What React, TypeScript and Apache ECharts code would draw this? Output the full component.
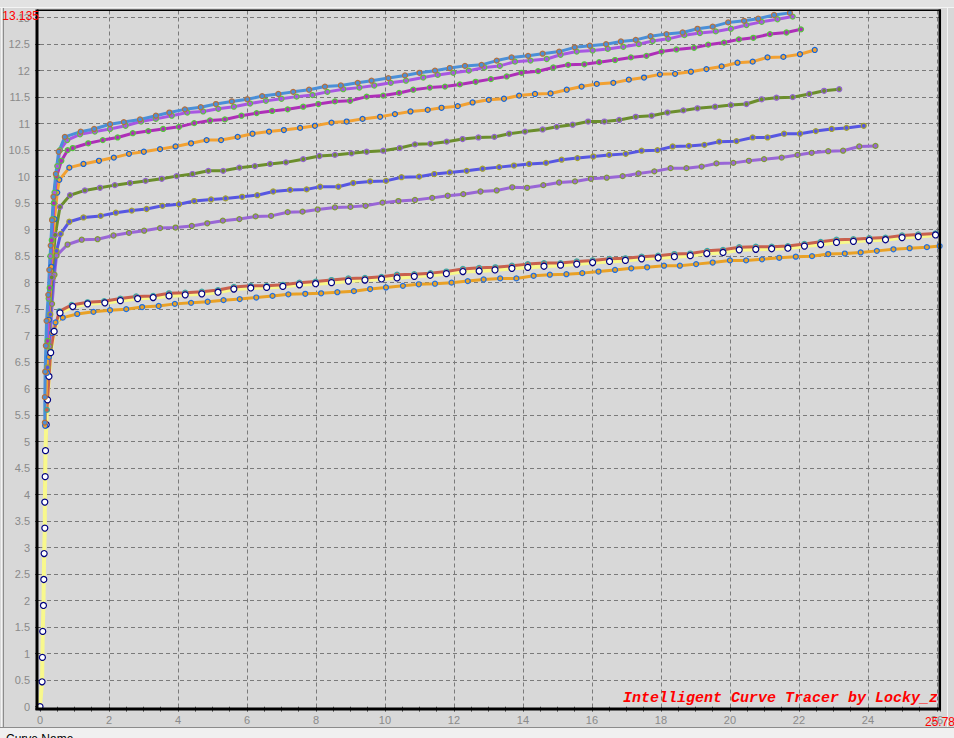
import React, { useEffect, useRef } from "react";
import * as echarts from "echarts";

const X_MAX = 26.09;
const Y_MAX = 13.135;
const X_MAX_LABEL = "25.78";
const Y_MAX_LABEL = "13.135";
const WATERMARK = "Intelligent Curve Tracer by Locky_z";

const curveBlue: number[][] = [[0.14,5.36],[0.14,5.84],[0.15,6.32],[0.17,6.81],[0.19,7.28],[0.24,7.77],[0.27,8.24],[0.31,8.7],[0.35,9.18],[0.39,9.62],[0.46,10.05],[0.54,10.47],[0.72,10.75],[1.18,10.85],[1.57,10.9],[2.03,10.99],[2.43,11.03],[2.9,11.08],[3.36,11.15],[3.75,11.21],[4.2,11.27],[4.66,11.31],[5.1,11.37],[5.56,11.42],[6.01,11.46],[6.44,11.52],[6.91,11.56],[7.34,11.6],[7.8,11.64],[8.26,11.7],[8.72,11.72],[9.21,11.77],[9.61,11.81],[10.1,11.86],[10.58,11.91],[11.0,11.96],[11.45,12.0],[11.88,12.05],[12.32,12.09],[12.8,12.11],[13.24,12.19],[13.67,12.25],[14.15,12.28],[14.57,12.32],[15.05,12.36],[15.5,12.44],[15.94,12.47],[16.41,12.5],[16.84,12.55],[17.27,12.58],[17.7,12.65],[18.16,12.69],[18.63,12.72],[19.06,12.79],[19.5,12.83],[19.95,12.91],[20.41,12.94],[20.82,12.98],[21.28,13.05],[21.74,13.09]];

const curvePurple: number[][] = [[0.2,6.8],[0.25,7.7],[0.3,8.5],[0.36,9.2],[0.42,9.7],[0.5,10.2],[0.58,10.5],[0.79,10.69],[1.16,10.8],[1.59,10.85],[2.03,10.9],[2.48,10.96],[2.93,11.04],[3.36,11.09],[3.82,11.15],[4.27,11.21],[4.73,11.23],[5.17,11.28],[5.62,11.32],[6.09,11.38],[6.55,11.43],[7.0,11.47],[7.44,11.51],[7.9,11.54],[8.33,11.6],[8.79,11.65],[9.26,11.68],[9.69,11.72],[10.17,11.77],[10.61,11.81],[11.11,11.87],[11.53,11.92],[11.98,11.96],[12.43,12.0],[12.88,12.06],[13.33,12.09],[13.77,12.17],[14.22,12.19],[14.69,12.22],[15.09,12.3],[15.56,12.36],[16.02,12.38],[16.46,12.41],[16.91,12.45],[17.36,12.5],[17.76,12.56],[18.21,12.6],[18.68,12.67],[19.13,12.71],[19.59,12.74],[20.03,12.79],[20.48,12.86],[20.92,12.92],[21.38,12.97],[21.82,13.02]];

const curveMagenta: number[][] = [[0.22,6.9],[0.28,7.9],[0.34,8.8],[0.4,9.5],[0.48,10.0],[0.62,10.3],[0.8,10.5],[0.95,10.54],[1.4,10.63],[1.82,10.69],[2.25,10.74],[2.69,10.82],[3.14,10.86],[3.57,10.9],[4.03,10.94],[4.47,11.01],[4.93,11.06],[5.36,11.08],[5.84,11.15],[6.28,11.2],[6.73,11.24],[7.18,11.27],[7.63,11.32],[8.07,11.37],[8.55,11.42],[8.99,11.43],[9.47,11.51],[9.95,11.53],[10.41,11.58],[10.82,11.64],[11.3,11.68],[11.74,11.7],[12.17,11.74],[12.63,11.79],[13.07,11.84],[13.53,11.89],[13.96,11.96],[14.44,11.99],[14.88,12.06],[15.31,12.11],[15.78,12.12],[16.21,12.16],[16.67,12.2],[17.13,12.25],[17.58,12.28],[18.02,12.36],[18.45,12.4],[18.96,12.43],[19.37,12.49],[19.83,12.53],[20.26,12.59],[20.68,12.62],[21.16,12.69],[21.64,12.72],[22.06,12.78]];

const curveOrange: number[][] = [[0.15,5.3],[0.2,6.3],[0.26,7.3],[0.33,8.3],[0.42,9.2],[0.5,9.7],[0.56,9.94],[0.85,10.17],[1.26,10.24],[1.71,10.3],[2.14,10.36],[2.58,10.43],[3.01,10.47],[3.48,10.52],[3.93,10.57],[4.38,10.63],[4.83,10.69],[5.25,10.69],[5.73,10.75],[6.16,10.81],[6.64,10.85],[7.07,10.88],[7.54,10.92],[7.97,10.96],[8.45,11.02],[8.89,11.04],[9.35,11.09],[9.86,11.13],[10.29,11.18],[10.74,11.23],[11.24,11.26],[11.64,11.3],[12.11,11.33],[12.54,11.4],[13.01,11.45],[13.45,11.47],[13.89,11.53],[14.35,11.56],[14.8,11.57],[15.27,11.64],[15.7,11.7],[16.14,11.75],[16.62,11.77],[17.07,11.83],[17.51,11.87],[17.97,11.93],[18.41,11.94],[18.87,11.98],[19.32,12.03],[19.76,12.08],[20.22,12.15],[20.66,12.17],[21.09,12.25],[21.55,12.26],[22.03,12.31],[22.46,12.39]];

const curveOlive: number[][] = [[0.2,6.3],[0.27,7.3],[0.34,8.1],[0.44,8.9],[0.58,9.43],[0.87,9.65],[1.3,9.74],[1.74,9.79],[2.17,9.84],[2.61,9.88],[3.06,9.92],[3.53,9.96],[3.96,10.01],[4.42,10.05],[4.88,10.11],[5.31,10.11],[5.78,10.17],[6.23,10.2],[6.67,10.24],[7.13,10.27],[7.63,10.33],[8.1,10.39],[8.55,10.41],[9.03,10.44],[9.47,10.47],[9.95,10.49],[10.43,10.54],[10.87,10.61],[11.32,10.62],[11.79,10.66],[12.25,10.71],[12.71,10.74],[13.17,10.75],[13.6,10.81],[14.06,10.85],[14.57,10.89],[14.98,10.94],[15.44,10.98],[15.89,11.04],[16.36,11.04],[16.79,11.07],[17.27,11.13],[17.73,11.15],[18.19,11.21],[18.65,11.25],[19.06,11.29],[19.57,11.32],[20.03,11.35],[20.48,11.37],[20.92,11.46],[21.35,11.49],[21.82,11.5],[22.3,11.56],[22.73,11.62],[23.17,11.65]];

const curveIndigo: number[][] = [[0.22,6.4],[0.3,7.4],[0.38,8.1],[0.48,8.6],[0.6,8.92],[0.85,9.15],[1.26,9.23],[1.76,9.26],[2.2,9.32],[2.66,9.36],[3.09,9.39],[3.55,9.45],[4.03,9.48],[4.47,9.54],[4.96,9.57],[5.38,9.59],[5.86,9.62],[6.3,9.65],[6.76,9.72],[7.25,9.75],[7.73,9.76],[8.12,9.81],[8.65,9.81],[9.08,9.88],[9.57,9.91],[10.03,9.92],[10.48,9.99],[10.99,10.0],[11.43,10.05],[11.88,10.08],[12.37,10.11],[12.83,10.15],[13.31,10.18],[13.74,10.21],[14.18,10.24],[14.67,10.26],[15.12,10.32],[15.58,10.35],[16.04,10.38],[16.5,10.41],[16.98,10.43],[17.44,10.49],[17.9,10.5],[18.34,10.57],[18.81,10.58],[19.26,10.6],[19.69,10.66],[20.19,10.67],[20.66,10.74],[21.09,10.74],[21.57,10.81],[22.03,10.81],[22.49,10.86],[22.95,10.9],[23.38,10.92],[23.88,10.96]];

const curveViolet: number[][] = [[0.28,6.8],[0.35,7.6],[0.42,8.15],[0.48,8.51],[0.8,8.72],[1.21,8.81],[1.67,8.82],[2.13,8.89],[2.58,8.94],[3.02,8.98],[3.48,9.03],[3.93,9.04],[4.4,9.07],[4.85,9.12],[5.3,9.17],[5.78,9.2],[6.25,9.25],[6.7,9.26],[7.18,9.33],[7.61,9.34],[8.05,9.38],[8.55,9.42],[9.0,9.43],[9.44,9.45],[9.93,9.51],[10.39,9.54],[10.87,9.56],[11.37,9.6],[11.82,9.64],[12.27,9.67],[12.77,9.72],[13.24,9.74],[13.69,9.8],[14.12,9.79],[14.59,9.84],[15.05,9.89],[15.51,9.91],[15.97,9.96],[16.43,9.98],[16.89,10.01],[17.35,10.06],[17.81,10.1],[18.28,10.16],[18.74,10.16],[19.18,10.19],[19.61,10.25],[20.1,10.26],[20.55,10.3],[20.99,10.33],[21.5,10.36],[21.96,10.41],[22.37,10.45],[22.85,10.48],[23.28,10.49],[23.75,10.57],[24.22,10.58]];

const curveRed: number[][] = [[0.2,5.6],[0.31,6.7],[0.41,7.1],[0.56,7.46],[0.92,7.58],[1.38,7.63],[1.86,7.65],[2.33,7.7],[2.79,7.74],[3.28,7.75],[3.74,7.8],[4.21,7.81],[4.69,7.83],[5.16,7.86],[5.62,7.92],[6.11,7.94],[6.57,7.94],[7.04,7.96],[7.52,8.0],[7.99,8.02],[8.45,8.05],[8.94,8.08],[9.42,8.09],[9.9,8.11],[10.35,8.15],[10.85,8.16],[11.32,8.18],[11.78,8.21],[12.26,8.26],[12.73,8.28],[13.2,8.29],[13.68,8.32],[14.14,8.35],[14.61,8.37],[15.09,8.37],[15.56,8.4],[16.02,8.42],[16.51,8.45],[16.97,8.46],[17.44,8.49],[17.92,8.51],[18.39,8.54],[18.85,8.55],[19.34,8.6],[19.8,8.62],[20.27,8.67],[20.75,8.68],[21.21,8.68],[21.68,8.69],[22.16,8.73],[22.63,8.77],[23.09,8.81],[23.58,8.82],[24.04,8.84],[24.51,8.85],[24.99,8.89],[25.46,8.91],[25.96,8.93]];

const curveYellow: number[][] = [[0.0,0.0],[0.06,0.47],[0.07,0.93],[0.08,1.42],[0.1,1.91],[0.11,2.4],[0.12,2.89],[0.14,3.37],[0.14,3.86],[0.15,4.34],[0.16,4.83],[0.18,5.32],[0.22,5.79],[0.26,6.23],[0.31,6.68],[0.41,7.08],[0.58,7.43],[0.95,7.55],[1.38,7.6],[1.88,7.62],[2.33,7.66],[2.83,7.7],[3.28,7.72],[3.74,7.75],[4.21,7.77],[4.69,7.79],[5.16,7.82],[5.62,7.88],[6.11,7.9],[6.57,7.91],[7.04,7.93],[7.52,7.96],[7.99,7.98],[8.45,8.0],[8.94,8.03],[9.42,8.05],[9.9,8.07],[10.35,8.09],[10.85,8.12],[11.31,8.14],[11.78,8.17],[12.26,8.21],[12.73,8.22],[13.19,8.24],[13.68,8.27],[14.14,8.29],[14.61,8.31],[15.09,8.33],[15.56,8.35],[16.02,8.38],[16.51,8.4],[16.97,8.42],[17.44,8.45],[17.92,8.47],[18.39,8.49],[18.85,8.51],[19.33,8.55],[19.8,8.57],[20.27,8.62],[20.75,8.63],[21.21,8.64],[21.68,8.65],[22.16,8.69],[22.63,8.72],[23.09,8.76],[23.58,8.78],[24.04,8.8],[24.51,8.81],[24.99,8.85],[25.46,8.87],[25.96,8.9]];

const curveAmber: number[][] = [[0.13,3.86],[0.16,4.83],[0.2,5.8],[0.26,6.6],[0.35,7.05],[0.45,7.25],[0.66,7.34],[1.08,7.41],[1.55,7.45],[2.03,7.48],[2.5,7.5],[2.96,7.54],[3.44,7.56],[3.91,7.6],[4.38,7.62],[4.86,7.64],[5.32,7.67],[5.79,7.69],[6.27,7.72],[6.74,7.75],[7.2,7.78],[7.69,7.79],[8.15,7.8],[8.62,7.82],[9.1,7.84],[9.57,7.88],[10.03,7.91],[10.52,7.94],[10.98,7.97],[11.45,7.98],[11.93,8.0],[12.4,8.03],[12.86,8.06],[13.34,8.08],[13.81,8.08],[14.31,8.13],[14.78,8.15],[15.26,8.16],[15.72,8.18],[16.19,8.21],[16.67,8.24],[17.14,8.27],[17.6,8.29],[18.09,8.32],[18.55,8.32],[19.02,8.35],[19.5,8.38],[20.0,8.42],[20.47,8.42],[20.93,8.44],[21.43,8.47],[21.91,8.49],[22.38,8.5],[22.85,8.54],[23.33,8.55],[23.79,8.57],[24.26,8.6],[24.74,8.63],[25.21,8.65],[25.71,8.67],[26.08,8.69]];

const LBL = '"Liberation Sans", Arial, sans-serif';

function curve(name: string, data: number[][], color: string, ring: string, fill?: string, width = 3, showLine = true, showSym = true, size = 5) {
  return {
    type: "line",
    name,
    data,
    symbol: "circle",
    symbolSize: size,
    showSymbol: showSym,
    lineStyle: { color, width, opacity: showLine ? 1 : 0 },
    itemStyle: { color: fill || color, borderColor: ring, borderWidth: 1.2, opacity: showSym ? 1 : 0 },
    emphasis: { disabled: true },
    silent: true,
  };
}

export default function App() {
  const ref = useRef<HTMLDivElement>(null);
  useEffect(() => {
    if (!ref.current) return;
    const chart = echarts.init(ref.current, undefined, { renderer: "svg" });
    const gridLine = { color: "#7a7a7a", type: [4, 3], width: 1 };
    chart.setOption({
      animation: false,
      backgroundColor: "#d8d8d8",
      grid: { left: 40, top: 10.5, width: 900, height: 696.2, containLabel: false },
      xAxis: {
        type: "value",
        min: 0,
        max: X_MAX,
        interval: 2,
        offset: 2,
        axisLine: { show: false },
        axisTick: { show: true, length: 5, lineStyle: { color: "#505050" } },
        minorTick: { show: true, splitNumber: 4, length: 5, lineStyle: { color: "#505050" } },
        axisLabel: { color: "#8a8a8a", fontSize: 11, fontFamily: LBL, margin: 6, showMaxLabel: false },
        splitLine: { show: true, lineStyle: gridLine, showMinLine: false, showMaxLine: false },
      },
      yAxis: {
        type: "value",
        min: 0,
        max: Y_MAX,
        interval: 0.5,
        offset: 3,
        axisLine: { show: false },
        axisTick: { show: true, length: 5, lineStyle: { color: "#505050" } },
        axisLabel: { color: "#8a8a8a", fontSize: 11, fontFamily: LBL, margin: 7, showMaxLabel: false },
        splitLine: { show: true, lineStyle: gridLine, showMinLine: false, showMaxLine: false },
      },
      series: [
        curve("amber", curveAmber, "#e9a126", "#1f6fe0"),
        curve("yellowLine", curveYellow, "#f8f88c", "#000080", "#ffffff", 4, true, false),
        curve("red", curveRed, "#c8604e", "#3aa6a6"),
        curve("yellowMarks", curveYellow, "#f8f88c", "#000080", "#ffffff", 0, false, true, 6),
        curve("violet", curveViolet, "#9966d6", "#7d9a32"),
        curve("indigo", curveIndigo, "#5656e2", "#a3a22c"),
        curve("olive", curveOlive, "#6b8e2c", "#9262d0"),
        curve("orange", curveOrange, "#f2a132", "#1464d6"),
        curve("magenta", curveMagenta, "#ae2eb8", "#52c83a"),
        curve("purple", curvePurple, "#a856e2", "#5ec242"),
        curve("blue", curveBlue, "#4a8fd8", "#b2703e"),
      ],
      graphic: [
        { type: "rect", shape: { x: 0, y: 0, width: 954, height: 7 }, style: { fill: "#e2e2e2" }, silent: true },
        { type: "line", shape: { x1: 0, y1: 7.5, x2: 954, y2: 7.5 }, style: { stroke: "#f4f4f4", lineWidth: 1 }, silent: true },
        { type: "line", shape: { x1: 1.5, y1: 8, x2: 1.5, y2: 727 }, style: { stroke: "#f4f4f4", lineWidth: 1 }, silent: true },
        { type: "line", shape: { x1: 3.5, y1: 8, x2: 3.5, y2: 727 }, style: { stroke: "#8c8c8c", lineWidth: 1 }, silent: true },
        { type: "line", shape: { x1: 947.5, y1: 8, x2: 947.5, y2: 727 }, style: { stroke: "#f4f4f4", lineWidth: 1 }, silent: true },
        { type: "rect", shape: { x: 0, y: 728, width: 954, height: 10 }, style: { fill: "#f0f0f0" }, silent: true },
        { type: "line", shape: { x1: 0, y1: 727.5, x2: 954, y2: 727.5 }, style: { stroke: "#8c8c8c", lineWidth: 1 }, silent: true },
        { type: "text", x: 6, y: 733, style: { text: "Curve Name", fill: "#000000", font: '12px ' + LBL, textVerticalAlign: "top" }, silent: true },
        { type: "line", shape: { x1: 37, y1: 9.5, x2: 37, y2: 710 }, style: { stroke: "#000000", lineWidth: 3 }, silent: true, z: 50 },
        { type: "line", shape: { x1: 35.5, y1: 709, x2: 941, y2: 709 }, style: { stroke: "#000000", lineWidth: 3 }, silent: true, z: 50 },
        { type: "line", shape: { x1: 37, y1: 10.3, x2: 941, y2: 10.3 }, style: { stroke: "#000000", lineWidth: 1.5 }, silent: true, z: 50 },
        { type: "line", shape: { x1: 939.8, y1: 9.5, x2: 939.8, y2: 710 }, style: { stroke: "#000000", lineWidth: 2.5 }, silent: true, z: 50 },
        { type: "text", x: 39, y: 16, style: { text: Y_MAX_LABEL, fill: "#ff0000", font: '12px ' + LBL, textAlign: "right", textVerticalAlign: "middle" }, silent: true, z: 60 },
        { type: "text", x: 940, y: 721.5, style: { text: X_MAX_LABEL, fill: "#ff0000", font: '12px ' + LBL, textAlign: "center", textVerticalAlign: "middle" }, silent: true, z: 60 },
        { type: "text", x: 938, y: 698, style: { text: WATERMARK, fill: "#ff0000", font: 'italic bold 15px "Liberation Mono", "Courier New", monospace', textAlign: "right", textVerticalAlign: "middle" }, silent: true, z: 60 },
      ],
    });
    return () => chart.dispose();
  }, []);
  return <div ref={ref} style={{ position: "absolute", left: 0, top: 0, width: 954, height: 738 }} />;
}
